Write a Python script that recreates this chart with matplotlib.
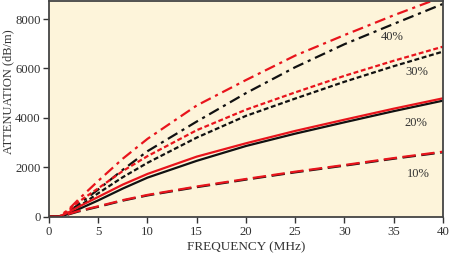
import matplotlib
matplotlib.use('Agg')
import matplotlib.pyplot as plt

freq = [0, 1, 2, 3, 5, 7.5, 10, 15, 20, 25, 30, 35, 40]

# 40 %
red_40 = [0, 0, 300, 700, 1450, 2350, 3150, 4500, 5530, 6520, 7350, 8150, 8900]
black_40 = [0, 0, 200, 500, 1100, 1900, 2650, 3850, 5000, 6050, 6980, 7800, 8610]
# 30 %
red_30 = [0, 0, 250, 600, 1150, 1850, 2450, 3500, 4330, 5030, 5700, 6310, 6880]
black_30 = [0, 0, 150, 400, 950, 1600, 2180, 3200, 4080, 4780, 5460, 6090, 6680]
# 20 %
red_20 = [0, 0, 180, 400, 800, 1300, 1730, 2430, 2970, 3470, 3925, 4370, 4790]
black_20 = [0, 0, 110, 300, 660, 1140, 1580, 2260, 2860, 3360, 3820, 4270, 4695]
# 10 %
red_10 = [0, 0, 110, 230, 420, 670, 880, 1220, 1525, 1820, 2090, 2370, 2630]
black_10 = [0, 0, 95, 210, 400, 650, 860, 1195, 1500, 1795, 2065, 2345, 2605]

labels = ['40%', '30%', '20%', '10%']
label_x = [34.9, 37.4, 37.3, 37.5]
label_y = [7285, 5868, 3793, 1728]

RED = '#e8141c'
BLK = '#111111'
BG = '#fdf4da'
TXT = '#333333'

plt.rcParams['font.family'] = ['Liberation Serif', 'DejaVu Serif']

fig = plt.figure(figsize=(4.5, 2.54), dpi=100)
ax = fig.add_axes([0.109, 0.147, 0.875, 0.849])
ax.set_facecolor(BG)

lw = 1.6
ax.plot(freq, black_40, color=BLK, lw=lw, dashes=(5, 2.2, 1.4, 2.2))
ax.plot(freq, red_40, color=RED, lw=lw, dashes=(5, 2.2, 1.4, 2.2))
ax.plot(freq, black_30, color=BLK, lw=lw, dashes=(2.2, 1.2))
ax.plot(freq, red_30, color=RED, lw=lw, dashes=(2.2, 1.2))
ax.plot(freq, black_20, color=BLK, lw=lw)
ax.plot(freq, red_20, color=RED, lw=lw)
ax.plot(freq, black_10, color=BLK, lw=lw, dashes=(6, 2.5))
ax.plot(freq, red_10, color=RED, lw=lw, dashes=(6, 2.5))

for t, x, y in zip(labels, label_x, label_y):
    ax.text(x, y, t, fontsize=9, color=TXT, ha='center', va='center')

ax.set_xlim(0, 40)
ax.set_ylim(0, 8730)
ax.set_xticks(range(0, 41, 5))
ax.set_yticks([0, 2000, 4000, 6000, 8000])
ax.tick_params(direction='out', length=4, width=1, colors=TXT, labelsize=9.2, pad=2)
ax.tick_params(axis='x', pad=3)
for s in ax.spines.values():
    s.set_color('#444444')
    s.set_linewidth(1.3)

ax.set_xlabel('FREQUENCY (MHz)', fontsize=9.5, color=TXT, labelpad=2)
ax.set_ylabel('ATTENUATION (dB/m)', fontsize=9, color=TXT)
ax.yaxis.set_label_coords(-0.088, 0.578)

fig.savefig('out.png', dpi=100, facecolor='white')
